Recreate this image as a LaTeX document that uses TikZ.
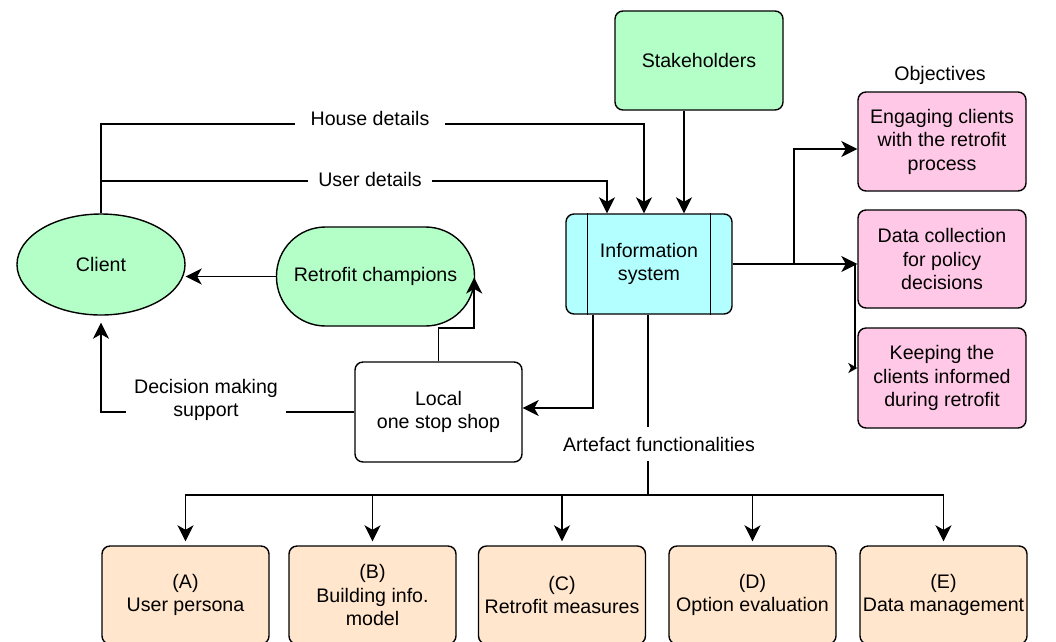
\documentclass[tikz,border=0pt]{standalone}
\usepackage{fontspec}
\setmainfont{Liberation Sans}
\usetikzlibrary{calc,arrows.meta,shapes.geometric}
\newcommand\dfont{\fontsize{19.6pt}{23.5pt}\selectfont}
\definecolor{cgreen}{RGB}{180,255,200}
\definecolor{ccyan}{RGB}{179,255,255}
\definecolor{cpink}{RGB}{255,200,230}
\definecolor{cpeach}{RGB}{255,230,204}
\begin{document}
\begin{tikzpicture}[x=1pt,y=-1pt,
  every node/.style={font=\dfont},
  box/.style={draw, line width=1.4pt, rounded corners=8pt, align=center, minimum width=168pt, minimum height=99pt, inner sep=2pt},
  conn/.style={line width=1.8pt},
  arr/.style={conn, -{Stealth[length=16pt,width=16pt,inset=4.5pt]}},
  lab/.style={fill=white, align=center, inner sep=3pt}
]
\useasboundingbox (0,0) rectangle (1056,641);
\clip (0,0) rectangle (1056,641);

% nodes
\node[box, fill=cgreen] (stake) at (699,60.5) {Stakeholders};
\node[box, fill=ccyan, minimum width=166pt, minimum height=100pt] (info) at (649,264) {Information\\system};
\node[draw, ellipse, line width=1.4pt, fill=cgreen, minimum width=168pt, minimum height=101pt, inner sep=0pt] (client) at (101,264.5) {Client};
\node[draw, line width=1.4pt, fill=cgreen, rounded corners=49pt, minimum width=198pt, minimum height=99pt] (champ) at (375.5,276.5) {Retrofit champions};
\node[box, fill=white, minimum width=167pt, minimum height=100pt] (local) at (438.5,412) {Local\\one stop shop};

\node (objt) at (940,75) {Objectives};
\node[box, fill=cpink] (eng) at (942,141.5) {Engaging clients\\with the retrofit\\process};
\node[box, fill=cpink, minimum height=98pt] (data) at (942,259) {Data collection\\for policy\\decisions};
\node[box, fill=cpink, minimum height=100pt] (keep) at (942,378) {Keeping the\\clients informed\\during retrofit};

\node[box, fill=cpeach, minimum width=167pt, minimum height=98pt] (fa) at (185.5,595) {(A)\\User persona};
\node[box, fill=cpeach, minimum width=167pt, minimum height=98pt] (fb) at (372.5,595) {(B)\\Building info.\\model};
\node[box, fill=cpeach, minimum width=167pt, minimum height=98pt] (fc) at (562,595) {(C)\\Retrofit measures};
\node[box, fill=cpeach, minimum width=167pt, minimum height=98pt] (fd) at (752.5,595) {(D)\\Option evaluation};
\node[box, fill=cpeach, minimum width=167pt, minimum height=98pt] (fe) at (943.5,595) {(E)\\Data management};

% inner lines of the information system
\draw[line width=1.4pt] ($(info.north west)+(22,0)$) -- ($(info.south west)+(22,0)$);
\draw[line width=1.4pt] ($(info.north east)+(-22,0)$) -- ($(info.south east)+(-22,0)$);

% connectors
\draw[arr] ($(stake.south)+(-15,0)$) -- ($(info.north)+(35,0)$);
\draw[arr] (client.north) |- ($(info.north)+(-5,-89)$) -- ($(info.north)+(-5,0)$);
\draw[arr] (client.north) |- ($(info.north)+(-42,-32)$) -- ($(info.north)+(-42,0)$);
\node[lab, minimum height=24pt, inner xsep=16pt] (hd) at (370,118) {House details};
\node[lab, minimum height=22pt, inner xsep=10pt] (ud) at (370,179) {User details};

\draw[arr] (champ.west) -- (champ.west -| client.east);
\draw[arr] (local.north) |- ($(champ.east)+(-1,51.5)$) -- ($(champ.east)+(-1,1)$);
\draw[arr] ($(info.south)+(-56,0)$) |- ($(local.east)+(0,-4)$);

\coordinate (bar) at ($(info.south)+(-1,180)$);
\draw[conn] ($(info.south)+(-1,0)$) -- (bar);
\foreach \b in {fa,fb,fc,fd,fe} \draw[arr, shorten >=4pt] (bar) -| (\b.north);
\node[lab, minimum height=34pt, inner xsep=2pt] (art) at (659,444) {Artefact functionalities};

\draw[arr, shorten >=7pt] (local.west) -| (client.south);
\node[lab, inner xsep=8pt] (dms) at (206,400) {Decision making\\support};

\draw[arr] (info.east) -- (info.east -| data.west);
\draw[arr] (info.east) -| ($(eng.west)+(-63,7.5)$) -- ($(eng.west)+(0,7.5)$);
\draw[conn, -{Stealth[length=9pt,width=10pt,inset=2.5pt]}] (info.east) -| ($(keep.west)+(-2,-10)$) -- ($(keep.west)+(0,-10)$);
\end{tikzpicture}
\end{document}
